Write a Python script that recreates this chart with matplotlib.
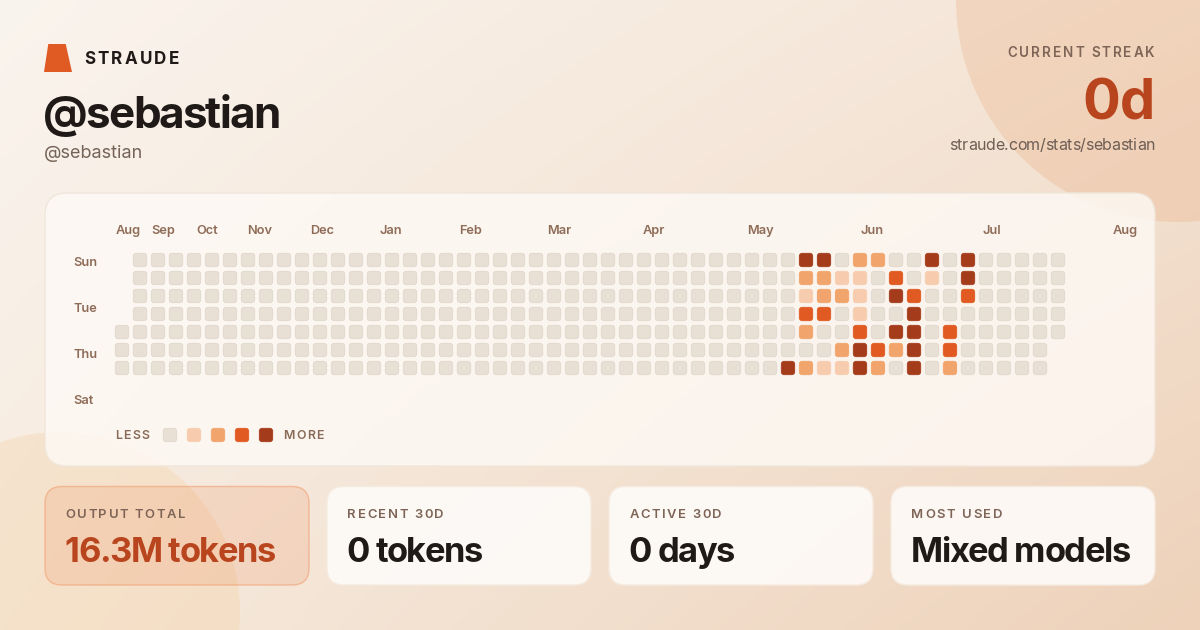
import numpy as np
import matplotlib
matplotlib.use("Agg")
import matplotlib.pyplot as plt
from matplotlib.patches import FancyBboxPatch, Circle, Polygon
from matplotlib.font_manager import FontProperties
from matplotlib.colors import to_rgb

# ---------------- data ----------------
user_handle = "@sebastian"
brand = "STRAUDE"
streak_label = "CURRENT STREAK"
streak_value = "0d"
profile_url = "straude.com/stats/sebastian"

month_labels = ["Aug", "Sep", "Oct", "Nov", "Dec", "Jan", "Feb", "Mar", "Apr", "May", "Jun", "Jul", "Aug"]
month_week_pos = [0.0, 2.0, 4.5, 7.3, 10.8, 14.7, 19.1, 24.0, 29.3, 35.1, 41.4, 48.2, 55.4]
day_labels = ["Sun", "Tue", "Thu", "Sat"]

# activity levels per weekday row (Sun..Sat), one char per week; '.' = no day
activity_rows = [
    "." + "0" * 37 + "44" + "0" + "22" + "00" + "4" + "0" + "4" + "00000",
    "." + "0" * 37 + "22" + "11" + "0" + "3" + "0" + "1" + "0" + "4" + "00000",
    "." + "0" * 37 + "12" + "21" + "0" + "43" + "00" + "3" + "00000",
    "." + "0" * 37 + "33" + "0" + "1" + "00" + "4" + "000" + "00000",
    "0" * 38 + "2" + "00" + "3" + "0" + "44" + "0" + "3" + "000000",
    "0" * 38 + "00" + "2" + "4" + "3" + "2" + "4" + "0" + "3" + "00000" + ".",
    "0" * 37 + "4" + "2" + "11" + "4" + "2" + "0" + "4" + "0" + "2" + "00000" + ".",
]

stat_labels = ["OUTPUT TOTAL", "RECENT 30D", "ACTIVE 30D", "MOST USED"]
stat_values = ["16.3M tokens", "0 tokens", "0 days", "Mixed models"]

level_colors = ["#e8e0d5", "#f7ccae", "#f1a46c", "#e05a22", "#a43c1b"]

# ---------------- figure ----------------
W, H = 1200, 630
fig = plt.figure(figsize=(12, 6.3), dpi=100)
ax = fig.add_axes([0, 0, 1, 1])
ax.set_xlim(0, W)
ax.set_ylim(H, 0)
ax.axis("off")

FONT = "Inter"
PT = 0.72  # px -> pt at dpi 100

# background gradient
tl, tr, bl, br = [np.array(to_rgb(c)) for c in ("#faf4ee", "#f4e4d5", "#f6ebdf", "#eed2ba")]
gx = np.linspace(0, 1, 300)[None, :, None]
gy = np.linspace(0, 1, 160)[:, None, None]
grad = (1 - gx) * (1 - gy) * tl + gx * (1 - gy) * tr + (1 - gx) * gy * bl + gx * gy * br
ax.imshow(grad, extent=[0, W, H, 0], aspect="auto", zorder=0, interpolation="bilinear")

ax.add_patch(Circle((1178, 0), 222, facecolor="#e9a878", alpha=0.27, edgecolor="none", zorder=1))
ax.add_patch(Circle((60, 612), 180, facecolor="#f5c890", alpha=0.25, edgecolor="none", zorder=1))

renderer = fig.canvas.get_renderer()


def fp(size_px, weight="normal"):
    return FontProperties(family=FONT, size=size_px * PT, weight=weight)


def tw(s, prop):
    w, h, d = renderer.get_text_width_height_descent(s + "x", prop, ismath=False)
    w2, _, _ = renderer.get_text_width_height_descent("x", prop, ismath=False)
    return w - w2


def spaced(x, y, s, size_px, weight, color, spacing, ha="left", z=5):
    prop = fp(size_px, weight)
    total = tw(s, prop) + spacing * (len(s) - 1)
    x0 = x - total if ha == "right" else x
    for i, ch in enumerate(s):
        if ch == " ":
            continue
        xi = x0 + tw(s[:i], prop) + spacing * i
        ax.text(xi, y, ch, fontproperties=prop, color=color, ha="left", va="baseline", zorder=z)


def rbox(x0, y0, x1, y1, r, fc, ec, lw=1.0, z=2):
    p = FancyBboxPatch((x0, y0), x1 - x0, y1 - y0,
                       boxstyle=f"round,pad=0,rounding_size={r}",
                       facecolor=fc, edgecolor=ec, linewidth=lw, zorder=z)
    ax.add_patch(p)
    return p


# ---------------- header ----------------
ax.add_patch(Polygon([[48.3, 44], [65.7, 44], [72, 72], [44, 72]], closed=True,
                     facecolor="#e05a24", edgecolor="none", zorder=5))
spaced(84, 63.5, brand, 17, "bold", "#1f1a17", 2.3)

spaced(43, 128, user_handle, 44, "bold", "#1f1a17", -1.9)
ax.text(44, 157.5, user_handle, fontproperties=fp(18, "normal"), color="#756357",
        ha="left", va="baseline", zorder=5)

spaced(1155, 57.3, streak_label, 13.5, "semibold", "#7d6456", 1.95, ha="right")
ax.text(1156, 120, streak_value, fontproperties=fp(56, "bold"), color="#b8451d",
        ha="right", va="baseline", zorder=5)
spaced(1155, 150, profile_url, 16, "normal", "#6e5e55", -0.35, ha="right")

# ---------------- heatmap panel ----------------
rbox(45, 193, 1155, 466, 22, (0.995, 0.98, 0.965, 0.8), (0.94, 0.90, 0.86, 1.0), lw=1.0, z=2)

CELL0_X, CELL0_Y, STEP, CS = 122, 260, 18, 13.4


def col_x(c):
    return CELL0_X + STEP * c


def row_y(r):
    return CELL0_Y + STEP * r


for r, row in enumerate(activity_rows):
    for c, ch in enumerate(row):
        if ch == ".":
            continue
        lv = int(ch)
        fc = level_colors[lv]
        ec = "#e0d7cc" if lv == 0 else fc
        rbox(col_x(c) - CS / 2, row_y(r) - CS / 2, col_x(c) + CS / 2, row_y(r) + CS / 2,
             3.2, fc, ec, lw=0.6, z=4)

for lbl, pos in zip(month_labels, month_week_pos):
    ax.text(col_x(pos) - CS / 2, 234, lbl, fontproperties=fp(12.8, "semibold"),
            color="#8f6c58", ha="left", va="baseline", zorder=5)

for i, lbl in enumerate(day_labels):
    ax.text(73, 266.5 + 46 * i, lbl, fontproperties=fp(12.8, "semibold"),
            color="#8f6c58", ha="left", va="baseline", zorder=5)

# legend
spaced(115, 439.3, "LESS", 12.4, "semibold", "#8a6a58", 1.3)
for i, c in enumerate(level_colors):
    cx = 170 + 24 * i
    ec = "#e0d7cc" if i == 0 else c
    rbox(cx - CS / 2, 435 - CS / 2, cx + CS / 2, 435 + CS / 2, 3.2, c, ec, lw=0.6, z=4)
spaced(283.3, 439.3, "MORE", 12.4, "semibold", "#8a6a58", 1.3)

# ---------------- stat cards ----------------
card_x0 = [45, 327, 609, 891]
card_w = 264
for i, (lbl, val) in enumerate(zip(stat_labels, stat_values)):
    x0 = card_x0[i]
    if i == 0:
        rbox(x0, 486.5, x0 + card_w, 585, 17, (0.93, 0.50, 0.28, 0.17), (0.94, 0.60, 0.42, 0.55), lw=1.0, z=2)
        vcol = "#b8451d"
    else:
        rbox(x0, 486.5, x0 + card_w, 585, 17, (0.998, 0.99, 0.98, 0.88), (0.96, 0.92, 0.88, 1.0), lw=1.0, z=2)
        vcol = "#1f1a17"
    spaced(x0 + 20.5, 518.3, lbl, 13, "semibold", "#7d6456", 1.6)
    spaced(x0 + 19.5, 561.7, val, 34.5, "bold", vcol, -1.35)

fig.savefig("out.png", dpi=100)
